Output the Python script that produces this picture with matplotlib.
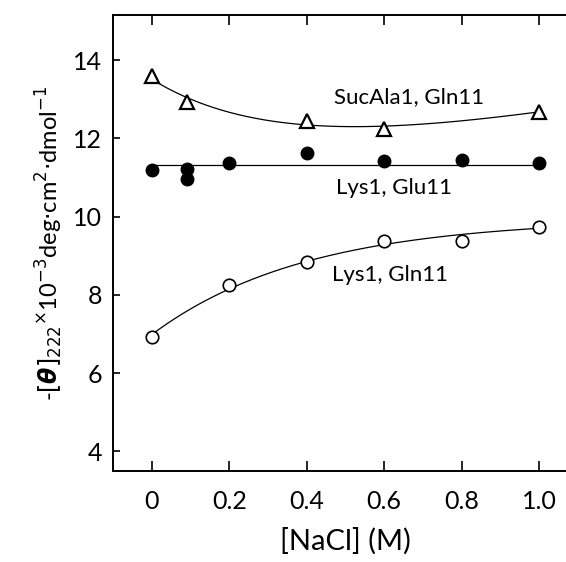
import numpy as np
import matplotlib
matplotlib.use("Agg")
import matplotlib.pyplot as plt

# valores
x_suc = [0.0, 0.09, 0.4, 0.6, 1.0]
y_suc = [13.58, 12.92, 12.45, 12.25, 12.68]

x_glu = [0.0, 0.09, 0.09, 0.2, 0.4, 0.6, 0.8, 1.0]
y_glu = [11.18, 11.22, 10.97, 11.38, 11.62, 11.42, 11.44, 11.37]

x_gln = [0.0, 0.2, 0.4, 0.6, 0.8, 1.0]
y_gln = [6.93, 8.24, 8.85, 9.38, 9.38, 9.74]

x_ticks = [0, 0.2, 0.4, 0.6, 0.8, 1.0]
x_ticklabels = ["0", "0.2", "0.4", "0.6", "0.8", "1.0"]
y_ticks = [4, 6, 8, 10, 12, 14]

plt.rcParams['font.family'] = ['Lato', 'DejaVu Sans']
plt.rcParams['mathtext.fontset'] = 'dejavusans'


def fit_curve(x, y, tau, linear):
    # ajuste simples: a + b*exp(-x/tau) (+ c*x)
    x = np.asarray(x)
    cols = [np.ones_like(x), np.exp(-x / tau)]
    if linear:
        cols.append(x)
    coef, *_ = np.linalg.lstsq(np.column_stack(cols), np.asarray(y), rcond=None)
    xx = np.linspace(0, 1.0, 200)
    out = coef[0] + coef[1] * np.exp(-xx / tau)
    if linear:
        out = out + coef[2] * xx
    return xx, out


fig = plt.figure(figsize=(5.66, 5.62), dpi=100)
ax = fig.add_axes([113 / 566, 91 / 562, 465 / 566, 456 / 562])

xx, yy = fit_curve(x_suc, y_suc, 0.35, True)
ax.plot(xx, yy, color="black", lw=0.9)
ax.plot([0.0, 1.0], [np.mean(y_glu)] * 2, color="black", lw=0.9)
xx, yy = fit_curve(x_gln, y_gln, 0.4, False)
ax.plot(xx, yy, color="black", lw=0.9)

ax.plot(x_suc, y_suc, "^", ms=10, mfc="white", mec="black", mew=1.6, ls="none")
ax.plot(x_glu, y_glu, "o", ms=9, mfc="black", mec="black", ls="none")
ax.plot(x_gln, y_gln, "o", ms=9, mfc="white", mec="black", mew=1.2, ls="none")

ax.text(0.665, 13.05, "SucAla1, Gln11", fontsize=16, ha="center", va="center")
ax.text(0.625, 10.74, "Lys1, Glu11", fontsize=16, ha="center", va="center")
ax.text(0.615, 8.5, "Lys1, Gln11", fontsize=16, ha="center", va="center")

ax.set_xlim(-0.1, 1.1)
ax.set_ylim(3.5, 15.15)
ax.set_xticks(x_ticks)
ax.set_xticklabels(x_ticklabels)
ax.set_yticks(y_ticks)

ax.tick_params(axis="x", direction="in", length=7, width=1.2, top=True,
               labelsize=18, pad=14)
ax.tick_params(axis="y", direction="in", length=5, width=1.2, right=True,
               labelsize=18, pad=8)
for s in ax.spines.values():
    s.set_linewidth(1.4)

ax.set_xlabel("[NaCl] (M)", fontsize=21, labelpad=10)
ax.set_ylabel(r"-$[\boldsymbol{\theta}]_{222}$$^{\times}$10$^{-3}$deg$\cdot$cm$^{2}$$\cdot$dmol$^{-1}$",
              fontsize=17, labelpad=6)

fig.savefig("out.png", dpi=100)
